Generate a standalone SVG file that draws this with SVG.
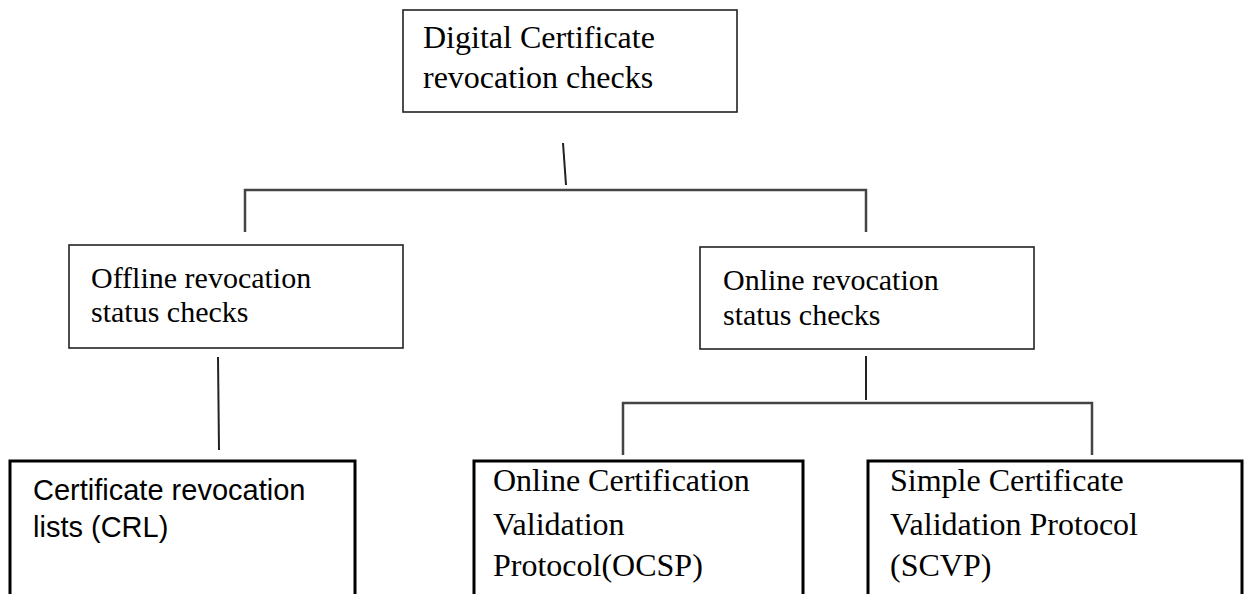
<svg xmlns="http://www.w3.org/2000/svg" width="1244" height="594" viewBox="0 0 1244 594">
<style>
.box{fill:#fff;stroke:#222;stroke-width:1.6}
.box2{fill:#fff;stroke:#000;stroke-width:3}
.ln{stroke:#222;stroke-width:2;fill:none}
.hl{stroke:#444;stroke-width:2.5;fill:none}
.serif{font-family:"Liberation Serif","Times New Roman",serif;fill:#000}
.sans{font-family:"Liberation Sans",Arial,sans-serif;fill:#000}
</style>
<rect width="1244" height="594" fill="#fff"/>
<g id="connectors">
<line class="ln" x1="563" y1="143" x2="566" y2="185"/>
<polyline class="hl" points="245,232 245,190 866,190 866,232"/>
<line class="ln" x1="218" y1="357" x2="219" y2="450"/>
<line class="ln" x1="866" y1="356" x2="866" y2="400"/>
<polyline class="hl" points="623,455 623,403 1092,403 1092,455"/>
</g>
<g id="root">
<rect class="box" x="403" y="10" width="334" height="102"/>
<text class="serif" font-size="32" x="423" y="48">Digital Certificate</text>
<text class="serif" font-size="32" x="423" y="88">revocation checks</text>
</g>
<g id="offline">
<rect class="box" x="69" y="245" width="334" height="103"/>
<text class="serif" font-size="30" x="91" y="288">Offline revocation</text>
<text class="serif" font-size="30" x="91" y="322">status checks</text>
</g>
<g id="online">
<rect class="box" x="700" y="247" width="334" height="102"/>
<text class="serif" font-size="30" x="723" y="290">Online revocation</text>
<text class="serif" font-size="30" x="723" y="325">status checks</text>
</g>
<g id="crl">
<rect class="box2" x="10" y="461" width="345" height="150"/>
<text class="sans" font-size="29" x="33" y="500">Certificate revocation</text>
<text class="sans" font-size="29" x="33" y="537">lists (CRL)</text>
</g>
<g id="ocsp">
<rect class="box2" x="474" y="461" width="329" height="150"/>
<text class="serif" font-size="32" x="493" y="491">Online Certification</text>
<text class="serif" font-size="32" x="493" y="535">Validation</text>
<text class="serif" font-size="32" x="493" y="576">Protocol(OCSP)</text>
</g>
<g id="scvp">
<rect class="box2" x="868" y="461" width="374" height="150"/>
<text class="serif" font-size="32" x="890" y="491">Simple Certificate</text>
<text class="serif" font-size="32" x="890" y="535">Validation Protocol</text>
<text class="serif" font-size="32" x="890" y="576">(SCVP)</text>
</g>
</svg>
